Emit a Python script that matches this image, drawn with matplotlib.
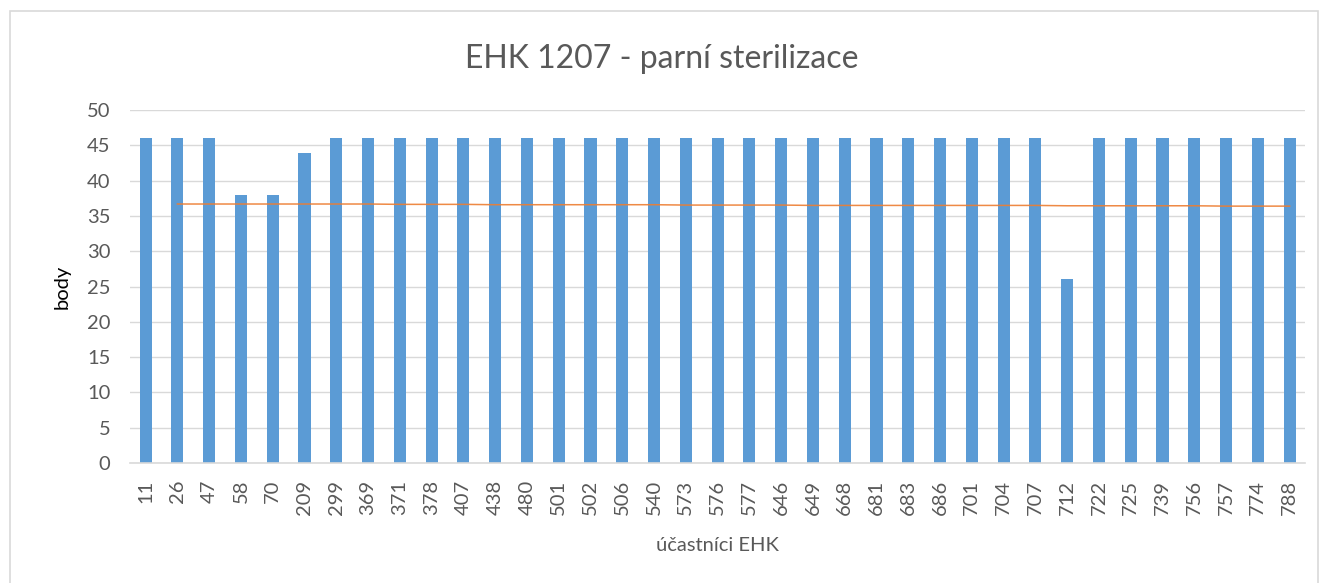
import matplotlib.pyplot as plt
from matplotlib.patches import Rectangle

plt.rcParams['font.family'] = ['Lato', 'DejaVu Sans']

participants = ['11', '26', '47', '58', '70', '209', '299', '369', '371', '378',
                '407', '438', '480', '501', '502', '506', '540', '573', '576', '577',
                '646', '649', '668', '681', '683', '686', '701', '704', '707', '712',
                '722', '725', '739', '756', '757', '774', '788']
points = [46, 46, 46, 38, 38, 44, 46, 46, 46, 46,
          46, 46, 46, 46, 46, 46, 46, 46, 46, 46,
          46, 46, 46, 46, 46, 46, 46, 46, 46, 26,
          46, 46, 46, 46, 46, 46, 46]
# orange line, starts at the second participant
line_values = [36.7, 36.7, 36.7, 36.7, 36.7, 36.7, 36.7, 36.65, 36.65,
               36.65, 36.6, 36.6, 36.6, 36.6, 36.6, 36.6, 36.55, 36.55, 36.55,
               36.55, 36.5, 36.5, 36.5, 36.5, 36.5, 36.5, 36.5, 36.5, 36.45,
               36.45, 36.45, 36.45, 36.45, 36.4, 36.4, 36.4]

fig = plt.figure(figsize=(13.24, 5.83), dpi=100)
ax = fig.add_axes([0.098, 0.206, 0.888, 0.605])

x = list(range(len(participants)))
ax.bar(x, points, width=0.38, color='#5B9BD5', zorder=2)
ax.plot(x[1:], line_values, color='#ED7D31', linewidth=1.1, alpha=0.9, zorder=3)

ax.set_xlim(-0.5, len(participants) - 0.5)
ax.set_ylim(0, 50)
ax.set_yticks(range(0, 51, 5))
ax.set_xticks(x)
ax.set_xticklabels(participants, rotation=90)
ax.tick_params(axis='both', length=0, labelsize=14.5, colors='#595959')
ax.tick_params(axis='x', pad=12)
ax.tick_params(axis='y', pad=14)
ax.grid(axis='y', color='#D9D9D9', linewidth=1, zorder=0)
for s in ['top', 'right', 'left']:
    ax.spines[s].set_visible(False)
ax.spines['bottom'].set_color('#D9D9D9')
ax.spines['bottom'].set_linewidth(1.2)

ax.set_xlabel('účastníci EHK', fontsize=14.5, color='#595959', labelpad=16)
ax.set_ylabel('body', fontsize=14.5, color='#000000', labelpad=12)
fig.suptitle('EHK 1207 - parní sterilizace', fontsize=23, color='#595959', y=0.925)

fig.patches.append(Rectangle((10 / 1324, -0.01), 1308 / 1324, 1 - 11 / 583 + 0.01,
                             transform=fig.transFigure, fill=False,
                             edgecolor='#D9D9D9', linewidth=1.2))

fig.savefig('out.png', dpi=100)
